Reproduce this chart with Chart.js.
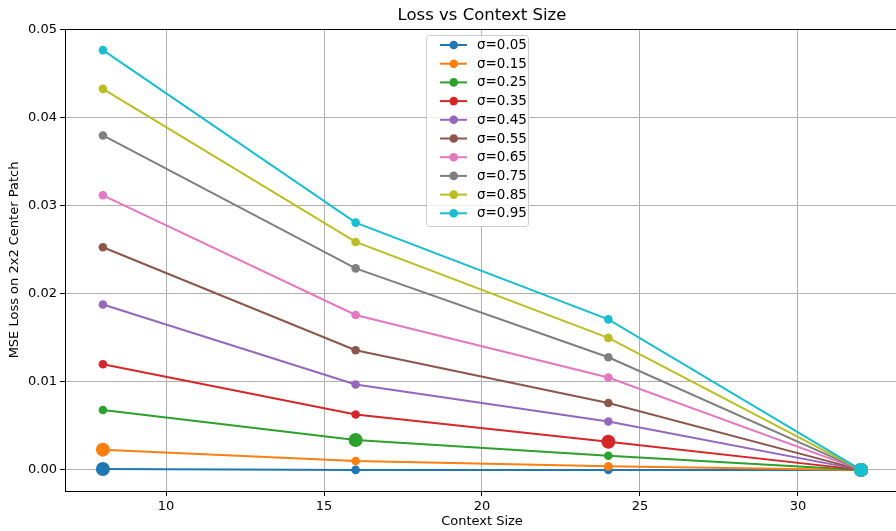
<!DOCTYPE html>
<html>
<head>
<meta charset="utf-8">
<script src="https://cdn.jsdelivr.net/npm/chart.js@4.4.1/dist/chart.umd.min.js"></script>
<style>
  html, body { margin: 0; padding: 0; background: #fff; overflow: hidden; }
  canvas { display: block; }
</style>
</head>
<body>
<canvas id="c" width="900" height="531"></canvas>
<script>
// Context sizes on the x axis
const contextSizes = [8, 16, 24, 32];

// Noise levels, one line per level
const sigmaLabels = ['σ=0.05', 'σ=0.15', 'σ=0.25', 'σ=0.35', 'σ=0.45',
                     'σ=0.55', 'σ=0.65', 'σ=0.75', 'σ=0.85', 'σ=0.95'];

// MSE loss per noise level at each context size
const lossS005 = [0.0001, 0.0000, 0.0000, 0.0000];
const lossS015 = [0.0023, 0.0010, 0.0004, 0.0000];
const lossS025 = [0.0068, 0.0034, 0.0016, 0.0000];
const lossS035 = [0.0120, 0.0063, 0.0032, 0.0000];
const lossS045 = [0.0188, 0.0097, 0.0055, 0.0000];
const lossS055 = [0.0253, 0.0136, 0.0076, 0.0000];
const lossS065 = [0.0312, 0.0176, 0.0105, 0.0000];
const lossS075 = [0.0380, 0.0229, 0.0128, 0.0000];
const lossS085 = [0.0433, 0.0259, 0.0150, 0.0000];
const lossS095 = [0.0477, 0.0281, 0.0171, 0.0000];
const lossSeries = [lossS005, lossS015, lossS025, lossS035, lossS045,
                    lossS055, lossS065, lossS075, lossS085, lossS095];

// Context sizes whose points are drawn as large markers, per noise level
const highlighted = [[8, 32], [8, 32], [16, 32], [24, 32], [32],
                     [32], [32], [32], [32], [32]];

// Tick values
const xTicks = [10, 15, 20, 25, 30];
const yTicks = [0.00, 0.01, 0.02, 0.03, 0.04, 0.05];

const colors = ['#1f77b4', '#ff7f0e', '#2ca02c', '#d62728', '#9467bd',
                '#8c564b', '#e377c2', '#7f7f7f', '#bcbd22', '#17becf'];

const FONT = 'DejaVu Sans';

const datasets = lossSeries.map((vals, i) => ({
  label: sigmaLabels[i],
  data: contextSizes.map((x, j) => ({ x: x, y: vals[j] })),
  borderColor: colors[i],
  backgroundColor: colors[i],
  borderWidth: 2,
  pointRadius: contextSizes.map(x => highlighted[i].includes(x) ? 7 : 4.3),
  pointHoverRadius: contextSizes.map(x => highlighted[i].includes(x) ? 7 : 4.3),
  pointBorderWidth: 0,
  tension: 0,
  order: lossSeries.length - 1 - i
}));

// Title, axis labels, frame and legend box
const decorations = {
  id: 'decorations',
  afterDraw(chart) {
    const ctx = chart.ctx;
    const a = chart.chartArea;
    ctx.save();
    // frame (top and right spines)
    ctx.strokeStyle = '#000';
    ctx.lineWidth = 1;
    ctx.beginPath();
    ctx.moveTo(a.left, a.top + 0.5);
    ctx.lineTo(a.right, a.top + 0.5);
    ctx.moveTo(a.right - 0.5, a.top);
    ctx.lineTo(a.right - 0.5, a.bottom);
    ctx.stroke();

    ctx.fillStyle = '#000';
    ctx.textAlign = 'center';
    ctx.textBaseline = 'middle';
    ctx.font = '16.5px "' + FONT + '"';
    ctx.fillText('Loss vs Context Size', (a.left + a.right) / 2, 16);

    ctx.font = '13px "' + FONT + '"';
    ctx.fillText('Context Size', (a.left + a.right) / 2, 522);

    ctx.save();
    ctx.translate(15, (a.top + a.bottom) / 2);
    ctx.rotate(-Math.PI / 2);
    ctx.fillText('MSE Loss on 2x2 Center Patch', 0, 0);
    ctx.restore();

    // legend
    const bx = 426, by = 35, bw = 102, rowH = 18.7, bh = 191;
    ctx.fillStyle = 'rgba(255,255,255,0.8)';
    ctx.strokeStyle = '#cccccc';
    ctx.lineWidth = 1;
    ctx.beginPath();
    ctx.roundRect(bx + 0.5, by + 0.5, bw, bh, 3);
    ctx.fill();
    ctx.stroke();

    ctx.font = '13.5px "' + FONT + '"';
    ctx.textAlign = 'left';
    chart.data.datasets.forEach((ds, i) => {
      const y = 45 + i * rowH;
      ctx.strokeStyle = ds.borderColor;
      ctx.lineWidth = 2;
      ctx.beginPath();
      ctx.moveTo(440, y);
      ctx.lineTo(467, y);
      ctx.stroke();
      ctx.fillStyle = ds.borderColor;
      ctx.beginPath();
      ctx.arc(453.7, y, 4.3, 0, Math.PI * 2);
      ctx.fill();
      ctx.fillStyle = '#000';
      ctx.fillText(ds.label, 477, y + 0.5);
    });
    ctx.restore();
  }
};

new Chart(document.getElementById('c'), {
  type: 'line',
  data: { datasets: datasets },
  plugins: [decorations],
  options: {
    responsive: false,
    animation: false,
    layout: { autoPadding: false, padding: { top: 29, left: 0, right: 1, bottom: 0 } },
    plugins: {
      legend: { display: false },
      title: { display: false },
      tooltip: { enabled: false }
    },
    scales: {
      x: {
        type: 'linear',
        min: 6.8,
        max: 33.2,
        afterFit(scale) { scale.height = 40; },
        afterBuildTicks(scale) { scale.ticks = xTicks.map(v => ({ value: v })); },
        ticks: {
          color: '#000',
          font: { family: FONT, size: 13 },
          padding: 3,
          maxRotation: 0,
          callback: v => String(v)
        },
        grid: {
          color: '#b0b0b0',
          lineWidth: 1,
          drawTicks: true,
          tickLength: 5,
          tickColor: '#000',
          tickWidth: 1
        },
        border: { display: true, color: '#000', width: 1 }
      },
      y: {
        type: 'linear',
        min: -0.0024,
        max: 0.0501,
        afterFit(scale) { scale.width = 65; },
        afterBuildTicks(scale) { scale.ticks = yTicks.map(v => ({ value: v })); },
        ticks: {
          color: '#000',
          font: { family: FONT, size: 13 },
          padding: 3,
          callback: v => Number(v).toFixed(2)
        },
        grid: {
          color: '#b0b0b0',
          lineWidth: 1,
          drawTicks: true,
          tickLength: 5,
          tickColor: '#000',
          tickWidth: 1
        },
        border: { display: true, color: '#000', width: 1 }
      }
    }
  }
});
</script>
</body>
</html>
